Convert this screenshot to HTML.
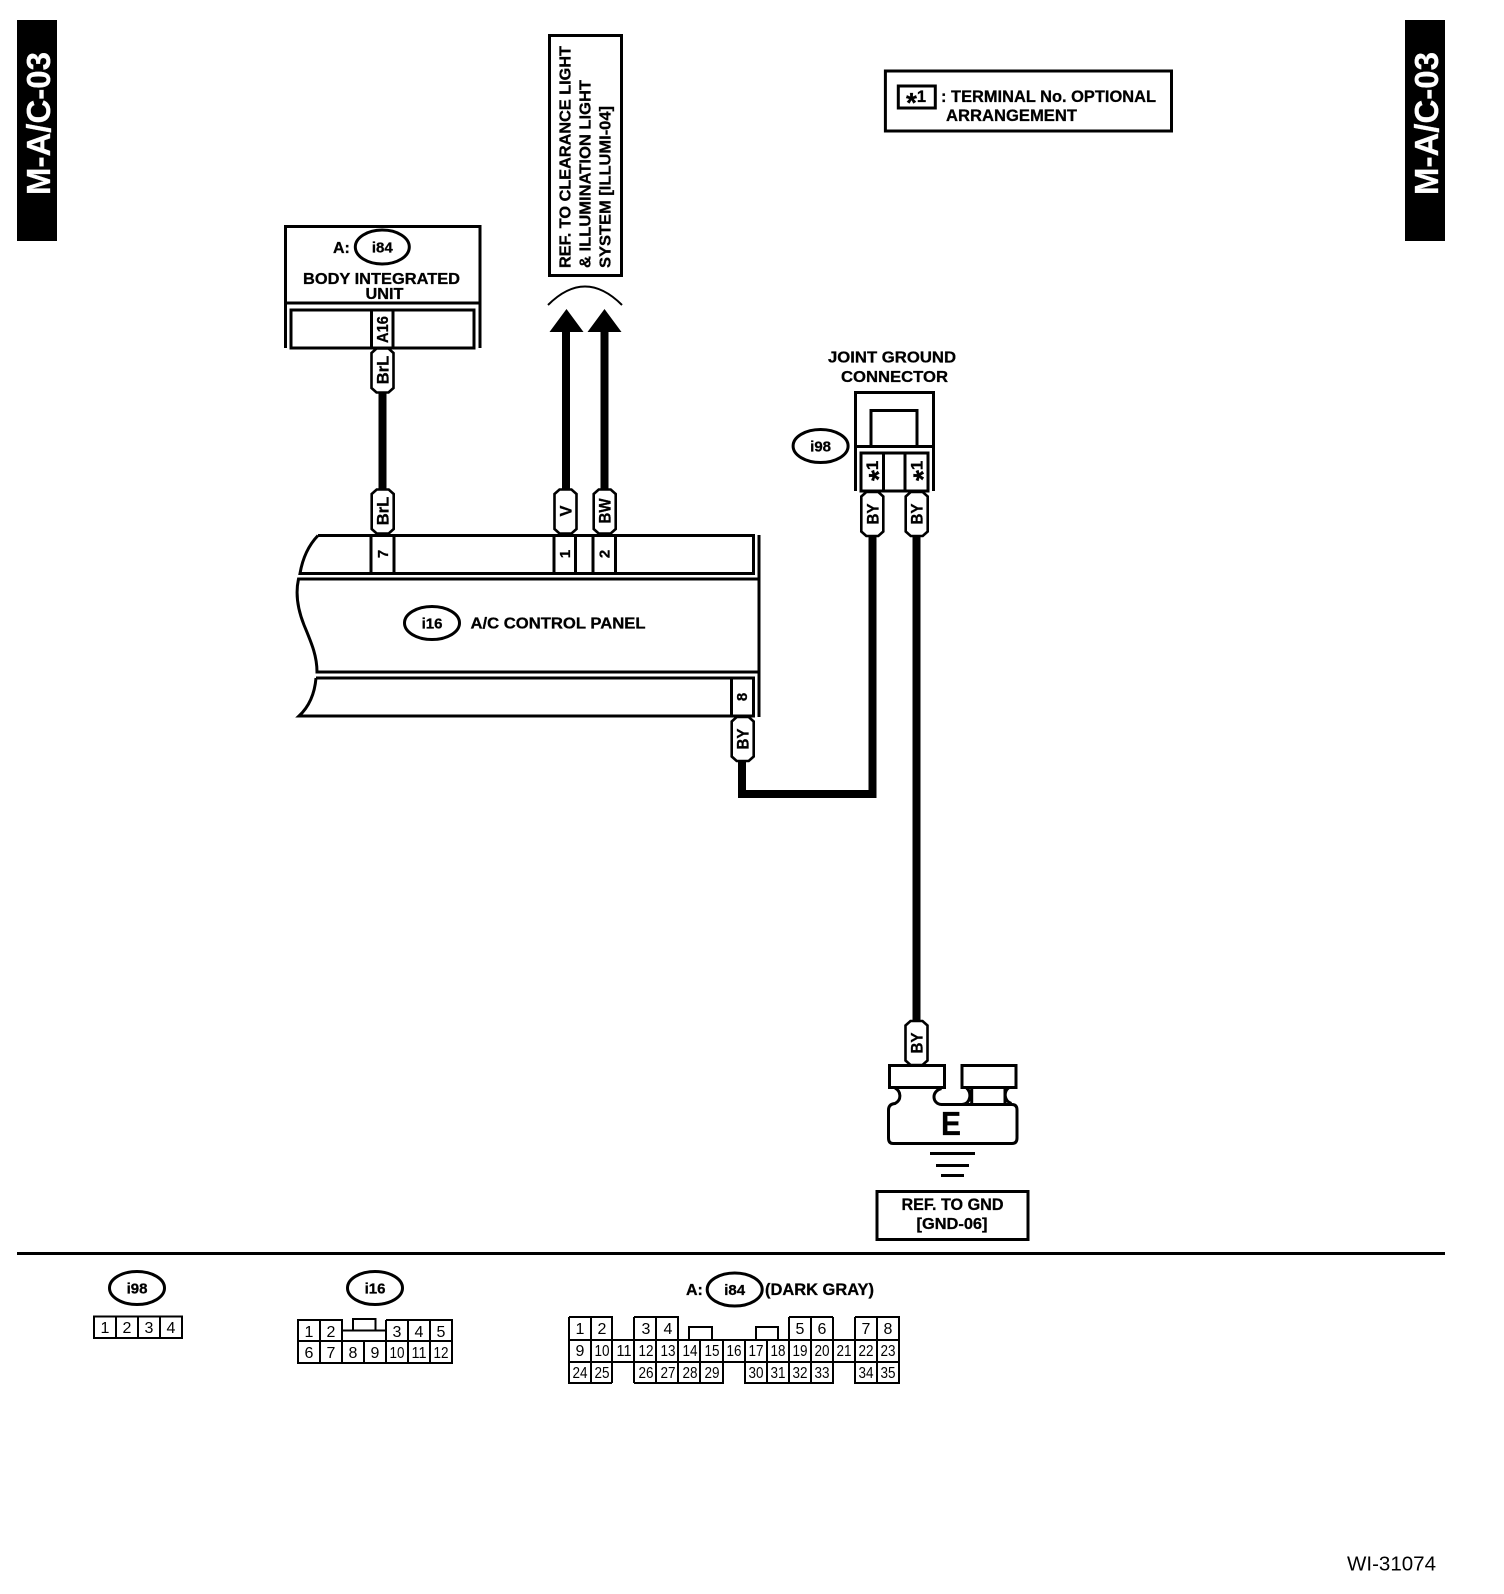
<!DOCTYPE html>
<html>
<head>
<meta charset="utf-8">
<style>
html,body{margin:0;padding:0;background:#fff;width:1504px;height:1594px;overflow:hidden}
svg{display:block}
text{font-family:"Liberation Sans",Arial,sans-serif;fill:#000}
.b{font-weight:bold;stroke:#000;stroke-width:.3}
.l{fill:none;stroke:#000;stroke-width:3;stroke-miterlimit:3}
.t{fill:none;stroke:#000;stroke-width:2}
.w{fill:none;stroke:#000;stroke-width:8}
.tag{fill:#fff;stroke:#000;stroke-width:2.6}
.e{fill:#fff;stroke:#000;stroke-width:3}
.n{font-size:16px;text-anchor:middle}
.m{text-anchor:middle}
</style>
</head>
<body>
<svg width="1504" height="1594" viewBox="0 0 1504 1594" xmlns="http://www.w3.org/2000/svg">
<defs>
<path id="tag" d="M-11,5 L-6,0.5 L6,0.5 L11,5 L11,40 L6,44.5 L-6,44.5 L-11,40 Z"/>
</defs>
<rect width="1504" height="1594" fill="#fff"/>

<!-- side tabs -->
<rect x="17" y="20" width="40" height="221" fill="#000"/>
<text class="b" transform="translate(50,195) rotate(-90)" font-size="33" style="fill:#fff;stroke:#fff" textLength="143" lengthAdjust="spacingAndGlyphs">M-A/C-03</text>
<rect x="1405" y="20" width="40" height="221" fill="#000"/>
<text class="b" transform="translate(1438,195) rotate(-90)" font-size="33" style="fill:#fff;stroke:#fff" textLength="143" lengthAdjust="spacingAndGlyphs">M-A/C-03</text>

<!-- REF box -->
<rect class="l" x="549.500" y="35.500" width="72" height="240"/>
<text class="b" transform="translate(570.700,268) rotate(-90)" font-size="16" textLength="222" lengthAdjust="spacingAndGlyphs">REF. TO CLEARANCE LIGHT</text>
<text class="b" transform="translate(590.700,268) rotate(-90)" font-size="16" textLength="188" lengthAdjust="spacingAndGlyphs">&amp; ILLUMINATION LIGHT</text>
<text class="b" transform="translate(610.700,268) rotate(-90)" font-size="16" textLength="162" lengthAdjust="spacingAndGlyphs">SYSTEM [ILLUMI-04]</text>
<path class="t" d="M548,305 Q585,268 622,305"/>
<path d="M566.500,309 L583.500,332 L549.500,332 Z M604.500,309 L621.500,332 L587.500,332 Z"/>
<path class="w" d="M566,331 V490 M604.500,331 V490" />

<!-- Legend box -->
<rect class="l" x="885.400" y="71" width="286.100" height="60"/>
<rect class="l" x="898.300" y="86" width="37" height="22"/>
<text class="b" x="906" y="102" font-size="16.500"><tspan font-size="28" dy="10">*</tspan><tspan dy="-10">1</tspan></text>
<text class="b" x="941" y="102" font-size="16.500" textLength="215" lengthAdjust="spacingAndGlyphs">: TERMINAL No. OPTIONAL</text>
<text class="b" x="946" y="121" font-size="16.500" textLength="131" lengthAdjust="spacingAndGlyphs">ARRANGEMENT</text>

<!-- Body integrated unit -->
<path class="l" d="M285.500,348 V226.500 H480 V348 M285.500,303 H480"/>
<rect class="l" x="291" y="310" width="183" height="38"/>
<path class="l" d="M371.500,310 V348 M393,310 V348"/>
<text class="b" x="333" y="253" font-size="16">A:</text>
<ellipse class="e" cx="382.300" cy="247" rx="27" ry="17"/>
<text class="b m" x="382.300" y="252.500" font-size="15">i84</text>
<text class="b" x="303" y="284" font-size="16" textLength="157" lengthAdjust="spacingAndGlyphs">BODY INTEGRATED</text>
<text class="b" x="365.500" y="299" font-size="16" textLength="38" lengthAdjust="spacingAndGlyphs">UNIT</text>
<text class="b" transform="translate(388,343) rotate(-90)" font-size="15.500" textLength="27" lengthAdjust="spacingAndGlyphs">A16</text>

<!-- wires -->
<path class="w" d="M382.500,392 V490"/>
<path class="w" d="M742,760 V794 H872.500 V536 M916.500,536 V1022"/>

<!-- tags -->
<use href="#tag" class="tag" transform="translate(382.500,348)"/>
<text class="b m" transform="translate(388.500,370) rotate(-90)" font-size="16.500">BrL</text>
<use href="#tag" class="tag" transform="translate(382.700,489)"/>
<text class="b m" transform="translate(388.700,511) rotate(-90)" font-size="16.500">BrL</text>
<use href="#tag" class="tag" transform="translate(565.500,489)"/>
<text class="b m" transform="translate(571.500,511) rotate(-90)" font-size="16.500">V</text>
<use href="#tag" class="tag" transform="translate(604.700,489)"/>
<text class="b m" transform="translate(610.700,511) rotate(-90)" font-size="16.500" textLength="25" lengthAdjust="spacingAndGlyphs">BW</text>

<!-- A/C control panel -->
<path class="l" d="M318,535.500 H753.500 V573.500 H300 Q304,550 318,535.500"/>
<path class="l" d="M759,535 V717"/>
<path class="l" d="M759,579 H298.500 C295,595 298,610 304,625 C311,642 317,655 317,672 H759"/>
<path class="l" d="M316,678 H753.500 V716 H299 Q314,702 316,678"/>
<path class="l" d="M371,535 V573 M394,535 V573 M554,535 V573 M575.500,535 V573 M593,535 V573 M615.500,535 V573 M731.500,678 V716"/>
<text class="b m" transform="translate(388,554) rotate(-90)" font-size="15">7</text>
<text class="b m" transform="translate(570,554) rotate(-90)" font-size="15">1</text>
<text class="b m" transform="translate(609.500,554) rotate(-90)" font-size="15">2</text>
<text class="b m" transform="translate(747,697) rotate(-90)" font-size="15">8</text>
<ellipse class="e" cx="432" cy="623" rx="27.500" ry="16.500"/>
<text class="b m" x="432" y="628.500" font-size="15">i16</text>
<text class="b" x="470.500" y="628.500" font-size="16" textLength="175" lengthAdjust="spacingAndGlyphs">A/C CONTROL PANEL</text>
<use href="#tag" class="tag" transform="translate(742.700,716.500)"/>
<text class="b m" transform="translate(748.700,739) rotate(-90)" font-size="16.500" textLength="21" lengthAdjust="spacingAndGlyphs">BY</text>

<!-- Joint ground connector -->
<text class="b" x="828" y="362.500" font-size="16" textLength="128" lengthAdjust="spacingAndGlyphs">JOINT GROUND</text>
<text class="b" x="841" y="382" font-size="16" textLength="107" lengthAdjust="spacingAndGlyphs">CONNECTOR</text>
<path class="l" d="M855.500,491 V392.500 H933.500 V491 M855.500,446.500 H933.500 M871,446 V410.500 H917 V446"/>
<rect class="l" x="861" y="453" width="67" height="38"/>
<path class="l" d="M883.500,453 V491 M905,453 V491"/>
<text class="b" transform="translate(878,481) rotate(-90)" font-size="17"><tspan font-size="28" dy="10">*</tspan><tspan dy="-10">1</tspan></text>
<text class="b" transform="translate(922.500,481) rotate(-90)" font-size="17"><tspan font-size="28" dy="10">*</tspan><tspan dy="-10">1</tspan></text>
<ellipse class="e" cx="820.600" cy="446" rx="27.500" ry="16.500"/>
<text class="b m" x="820.600" y="451.500" font-size="15">i98</text>
<use href="#tag" class="tag" transform="translate(872.300,491.500)"/>
<text class="b m" transform="translate(878.300,514) rotate(-90)" font-size="16.500" textLength="21" lengthAdjust="spacingAndGlyphs">BY</text>
<use href="#tag" class="tag" transform="translate(916.700,491.500)"/>
<text class="b m" transform="translate(922.700,514) rotate(-90)" font-size="16.500" textLength="21" lengthAdjust="spacingAndGlyphs">BY</text>

<!-- Ground -->
<use href="#tag" class="tag" transform="translate(916.500,1020.500)"/>
<text class="b m" transform="translate(922.500,1043) rotate(-90)" font-size="16.500" textLength="21" lengthAdjust="spacingAndGlyphs">BY</text>
<rect class="l" x="889.500" y="1065.500" width="55" height="22" style="fill:#fff"/>
<rect class="l" x="962" y="1065.500" width="54" height="22" style="fill:#fff"/>
<path class="l" d="M895,1088 C901,1091 902,1100 895,1103.500 Q888.500,1104 888.500,1110 V1138 Q888.500,1143.500 893,1143.500 H1012 Q1017,1143.500 1017,1138 V1110 Q1017,1104.500 1012,1104.500 H941.500 C932,1104 931,1091 941.500,1088.500 M966.500,1088 C972,1092 971,1104 962,1104.500 M1008.500,1088 C1003.500,1092 1004,1101 1011.500,1103.500 M971.700,1088 V1104 M1005,1088 V1104"/>
<text class="b" x="941" y="1135" font-size="33" textLength="20" lengthAdjust="spacingAndGlyphs">E</text>
<path class="l" d="M930,1153.500 H975 M936,1165.500 H969 M941,1175.500 H964"/>
<rect class="l" x="877" y="1191.500" width="151" height="48"/>
<text class="b" x="901.500" y="1210" font-size="17" textLength="102" lengthAdjust="spacingAndGlyphs">REF. TO GND</text>
<text class="b" x="916.500" y="1229" font-size="16" textLength="71" lengthAdjust="spacingAndGlyphs">[GND-06]</text>

<!-- separator -->
<rect x="17" y="1252" width="1428" height="3"/>

<!-- i98 legend -->
<ellipse class="e" cx="137" cy="1288" rx="27.500" ry="16.500"/>
<text class="b m" x="137" y="1293.500" font-size="15">i98</text>
<path class="t" d="M94,1316.500 H182 V1338 H94 Z M116,1316.500 V1338 M138,1316.500 V1338 M160,1316.500 V1338"/>
<text class="n" x="105" y="1333">1</text><text class="n" x="127" y="1333">2</text><text class="n" x="149" y="1333">3</text><text class="n" x="171" y="1333">4</text>

<!-- i16 legend -->
<ellipse class="e" cx="375" cy="1288" rx="27.500" ry="16.500"/>
<text class="b m" x="375" y="1293.500" font-size="15">i16</text>
<path class="t" d="M298,1320 H342 V1341 H298 Z M320,1320 V1363 M386,1320 H452 V1363 H298 V1341 H452 M386,1320 V1363 M408,1320 V1363 M430,1320 V1363 M342,1341 V1363 M364,1341 V1363 M342,1330.500 H386 M353,1330.500 V1319 H375.500 V1330.500"/>
<text class="n" x="309" y="1337">1</text><text class="n" x="331" y="1337">2</text><text class="n" x="397" y="1337">3</text><text class="n" x="419" y="1337">4</text><text class="n" x="441" y="1337">5</text>
<text class="n" x="309" y="1358">6</text><text class="n" x="331" y="1358">7</text><text class="n" x="353" y="1358">8</text><text class="n" x="375" y="1358">9</text>
<text class="n" x="397" y="1358" textLength="15" lengthAdjust="spacingAndGlyphs">10</text><text class="n" x="419" y="1358" textLength="15" lengthAdjust="spacingAndGlyphs">11</text><text class="n" x="441" y="1358" textLength="15" lengthAdjust="spacingAndGlyphs">12</text>

<!-- i84 legend -->
<text class="b" x="686" y="1295" font-size="16">A:</text>
<ellipse class="e" cx="734.700" cy="1289.500" rx="27.500" ry="16.500"/>
<text class="b m" x="734.700" y="1295" font-size="15">i84</text>
<text class="b" x="765" y="1295" font-size="17" textLength="109" lengthAdjust="spacingAndGlyphs">(DARK GRAY)</text>

<path class="t" d="M569,1317 H612 V1340 M569,1317 V1383 H612 M591,1317 V1383 M634,1317 H678 V1340 M656,1317 V1383 M634,1317 V1383 M678,1340 V1383 M634,1383 H723 V1340 M700,1340 V1383 M745,1340 V1383 H833 V1340 M767,1340 V1383 M789,1317 V1383 M833,1317 H789 M811,1317 V1383 M855,1340 V1362 M877,1317 H899 V1383 H855 V1340 M877,1317 V1383 M855,1317 H877 M855,1317 V1340 M569,1340 H899 M569,1362 H899 M612,1340 V1383 M833,1317 V1340 M723,1340 V1362 M689,1340 V1327 H712 V1340 M756,1340 V1327 H778 V1340"/>
<text class="n" x="580" y="1334">1</text><text class="n" x="602" y="1334">2</text><text class="n" x="646" y="1334">3</text><text class="n" x="668" y="1334">4</text><text class="n" x="800" y="1334">5</text><text class="n" x="822" y="1334">6</text><text class="n" x="866" y="1334">7</text><text class="n" x="888" y="1334">8</text>
<text class="n" x="580" y="1356">9</text>
<text class="n" x="602" y="1356" textLength="15" lengthAdjust="spacingAndGlyphs">10</text>
<text class="n" x="624" y="1356" textLength="15" lengthAdjust="spacingAndGlyphs">11</text>
<text class="n" x="646" y="1356" textLength="15" lengthAdjust="spacingAndGlyphs">12</text>
<text class="n" x="668" y="1356" textLength="15" lengthAdjust="spacingAndGlyphs">13</text>
<text class="n" x="690" y="1356" textLength="15" lengthAdjust="spacingAndGlyphs">14</text>
<text class="n" x="712" y="1356" textLength="15" lengthAdjust="spacingAndGlyphs">15</text>
<text class="n" x="734" y="1356" textLength="15" lengthAdjust="spacingAndGlyphs">16</text>
<text class="n" x="756" y="1356" textLength="15" lengthAdjust="spacingAndGlyphs">17</text>
<text class="n" x="778" y="1356" textLength="15" lengthAdjust="spacingAndGlyphs">18</text>
<text class="n" x="800" y="1356" textLength="15" lengthAdjust="spacingAndGlyphs">19</text>
<text class="n" x="822" y="1356" textLength="15" lengthAdjust="spacingAndGlyphs">20</text>
<text class="n" x="844" y="1356" textLength="15" lengthAdjust="spacingAndGlyphs">21</text>
<text class="n" x="866" y="1356" textLength="15" lengthAdjust="spacingAndGlyphs">22</text>
<text class="n" x="888" y="1356" textLength="15" lengthAdjust="spacingAndGlyphs">23</text>
<text class="n" x="580" y="1378" textLength="15" lengthAdjust="spacingAndGlyphs">24</text>
<text class="n" x="602" y="1378" textLength="15" lengthAdjust="spacingAndGlyphs">25</text>
<text class="n" x="646" y="1378" textLength="15" lengthAdjust="spacingAndGlyphs">26</text>
<text class="n" x="668" y="1378" textLength="15" lengthAdjust="spacingAndGlyphs">27</text>
<text class="n" x="690" y="1378" textLength="15" lengthAdjust="spacingAndGlyphs">28</text>
<text class="n" x="712" y="1378" textLength="15" lengthAdjust="spacingAndGlyphs">29</text>
<text class="n" x="756" y="1378" textLength="15" lengthAdjust="spacingAndGlyphs">30</text>
<text class="n" x="778" y="1378" textLength="15" lengthAdjust="spacingAndGlyphs">31</text>
<text class="n" x="800" y="1378" textLength="15" lengthAdjust="spacingAndGlyphs">32</text>
<text class="n" x="822" y="1378" textLength="15" lengthAdjust="spacingAndGlyphs">33</text>
<text class="n" x="866" y="1378" textLength="15" lengthAdjust="spacingAndGlyphs">34</text>
<text class="n" x="888" y="1378" textLength="15" lengthAdjust="spacingAndGlyphs">35</text>

<text x="1347" y="1570.700" font-size="20" textLength="89" lengthAdjust="spacingAndGlyphs">WI-31074</text>
</svg>
</body>
</html>
